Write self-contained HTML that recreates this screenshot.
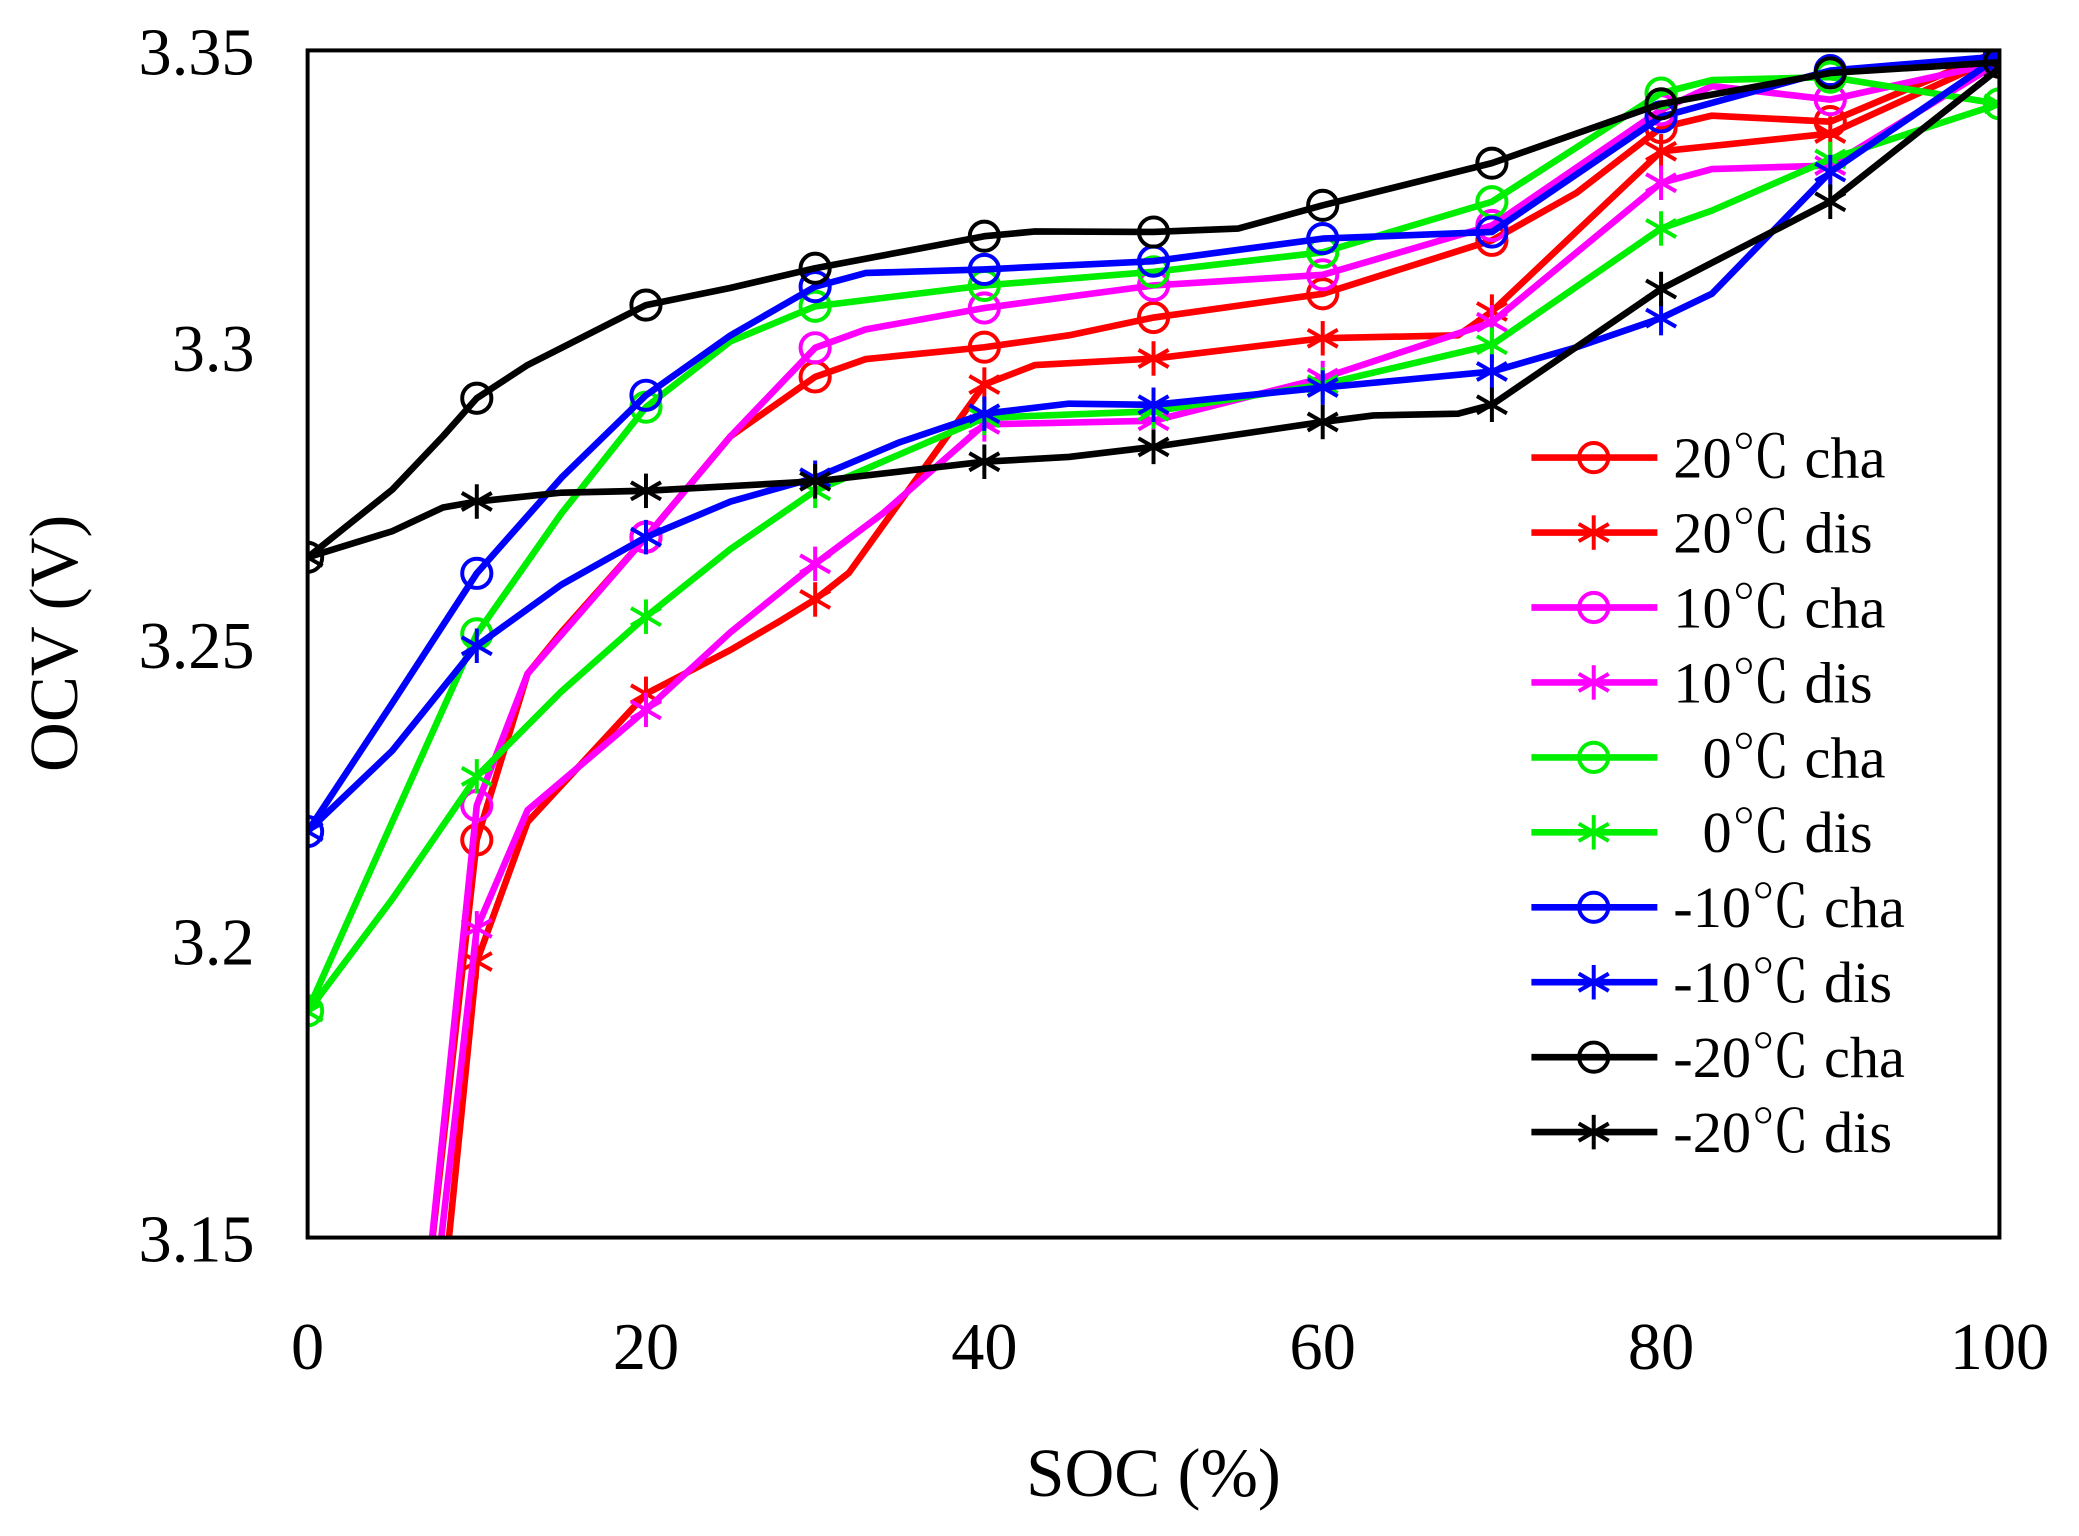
<!DOCTYPE html>
<html><head><meta charset="utf-8"><style>
html,body{margin:0;padding:0;background:#fff;}
svg{display:block;}
text{font-family:"Liberation Serif","Noto Serif CJK SC",serif;fill:#000;}
</style></head><body>
<svg id="chart" width="2079" height="1536" viewBox="0 0 1568 1158" preserveAspectRatio="none" xmlns="http://www.w3.org/2000/svg">
<defs><clipPath id="plotclip"><rect x="232" y="38" width="1276" height="895"/></clipPath></defs>
<g id="series" clip-path="url(#plotclip)"></g>
<rect x="232" y="38" width="1276" height="895" fill="none" stroke="#000" stroke-width="3"/>
<g id="axes"></g>
<g id="legend"></g>
<text x="870" y="1128" font-size="52" text-anchor="middle">SOC (%)</text>
<text transform="translate(58,485) rotate(-90)" font-size="52" text-anchor="middle">OCV (V)</text>
</svg>
<script>
const xTicks=[0,20,40,60,80,100];
const yTicks=[3.15,3.2,3.25,3.3,3.35];
const yTickLabels=["3.15","3.2","3.25","3.3","3.35"];
const seriesNames=["20℃ cha","20℃ dis","10℃ cha","10℃ dis","  0℃ cha","  0℃ dis","-10℃ cha","-10℃ dis","-20℃ cha","-20℃ dis"];
const seriesColors=["#ff0000","#ff0000","#ff00ff","#ff00ff","#00ee00","#00ee00","#0000ff","#0000ff","#000000","#000000"];
const seriesMarkers=["o","*","o","*","o","*","o","*","o","*"];
const soc20c=[7,10,13,15,20,25,30,33,40,45,50,60,70,75,80,83,90,100];
const v20c=[3.14,3.217,3.245,3.252,3.268,3.285,3.295,3.298,3.300,3.302,3.305,3.309,3.318,3.326,3.337,3.339,3.338,3.35];
const soc20d=[8,10,13,20,25,28,30,32,40,43,50,60,68,70,80,90,100];
const v20d=[3.14,3.1965,3.22,3.2416,3.249,3.254,3.2575,3.262,3.2937,3.297,3.2981,3.3015,3.302,3.306,3.333,3.336,3.349];
const soc10c=[7,10,13,20,25,30,33,40,50,60,70,80,83,90,100];
const v10c=[3.14,3.2228,3.245,3.268,3.285,3.2999,3.303,3.3066,3.3104,3.3122,3.3205,3.340,3.344,3.3417,3.348];
const soc10d=[7.5,10,13,20,25,30,34,40,50,60,70,80,83,90,100];
const v10d=[3.14,3.2021,3.222,3.2389,3.252,3.2635,3.272,3.287,3.2876,3.2948,3.3042,3.3277,3.330,3.3306,3.348];
const soc0c=[0,5,10,15,20,25,30,40,50,60,70,80,83,90,100];
const v0c=[3.1882,3.22,3.2517,3.272,3.2899,3.301,3.3069,3.3104,3.3127,3.316,3.3245,3.3428,3.345,3.3455,3.341];
const soc0d=[0,5,10,15,20,25,30,40,50,60,70,80,83,90,100];
const v0d=[3.188,3.207,3.2277,3.242,3.2546,3.266,3.2758,3.2881,3.2892,3.2937,3.3004,3.32,3.323,3.3317,3.341];
const socm10c=[0,5,10,15,20,25,30,33,40,50,60,70,80,90,100];
const vm10c=[3.2184,3.24,3.2619,3.278,3.2919,3.302,3.3102,3.3125,3.3131,3.3145,3.3183,3.3194,3.3388,3.3466,3.349];
const socm10d=[0,5,10,15,20,25,30,35,40,45,50,60,70,75,80,83,90,100];
const vm10d=[3.2184,3.232,3.2497,3.26,3.268,3.274,3.278,3.284,3.2888,3.2905,3.2903,3.2932,3.2959,3.300,3.3049,3.309,3.3295,3.349];
const socm20c=[0,5,8,10,13,20,25,30,35,40,43,50,55,60,70,80,90,100];
const vm20c=[3.2646,3.276,3.285,3.2914,3.297,3.3071,3.310,3.3133,3.316,3.3187,3.3195,3.3194,3.320,3.3239,3.331,3.341,3.3462,3.348];
const socm20d=[0,5,8,10,15,20,30,40,45,50,60,63,68,70,80,90,100];
const vm20d=[3.2646,3.269,3.273,3.274,3.2755,3.2758,3.2774,3.2807,3.2815,3.2832,3.2874,3.2885,3.2888,3.2903,3.3098,3.3245,3.347];
const seriesSoc=[soc20c,soc20d,soc10c,soc10d,soc0c,soc0d,socm10c,socm10d,socm20c,socm20d];
const seriesV=[v20c,v20d,v10c,v10d,v0c,v0d,vm10c,vm10d,vm20c,vm20d];

const NS="http://www.w3.org/2000/svg";
const X0=232,X1=1508,Y0=933,Y1=38;
function xs(s){return X0+(s-0)/100*(X1-X0);}
function ys(v){return Y0-(v-3.15)/0.2*(Y0-Y1);}
function mk(t,a,p){const e=document.createElementNS(NS,t);for(const k in a)e.setAttribute(k,a[k]);p.appendChild(e);return e;}
const axes=document.getElementById('axes');
xTicks.forEach(t=>{
  const tx=mk('text',{x:xs(t),y:1032,'font-size':50,'text-anchor':'middle'},axes);
  tx.textContent=String(t);
  
  
});
yTicks.forEach((t,i)=>{
  const tx=mk('text',{x:192,y:ys(t)+18,'font-size':50,'text-anchor':'end'},axes);
  tx.textContent=yTickLabels[i];
  
  
});
function drawMarker(type,cx,cy,col,parent){
  const g=mk('g',{},parent);
  if(type==='o'){mk('circle',{cx:cx,cy:cy,r:11,fill:'none',stroke:col,'stroke-width':3},g);}
  else{const r=13;
    mk('line',{x1:cx,y1:cy-r,x2:cx,y2:cy+r,stroke:col,'stroke-width':3},g);
    mk('line',{x1:cx-r*0.87,y1:cy-r*0.5,x2:cx+r*0.87,y2:cy+r*0.5,stroke:col,'stroke-width':3},g);
    mk('line',{x1:cx-r*0.87,y1:cy+r*0.5,x2:cx+r*0.87,y2:cy-r*0.5,stroke:col,'stroke-width':3},g);}
  return g;
}
const sg=document.getElementById('series');
seriesSoc.forEach((socs,i)=>{
  const vs=seriesV[i];
  const pts=socs.map((s,j)=>xs(s).toFixed(1)+','+ys(vs[j]).toFixed(1)).join(' ');
  const pl=mk('polyline',{points:pts,fill:'none',stroke:seriesColors[i],'stroke-width':5,'stroke-linejoin':'round'},sg);
  
  
  socs.forEach((s,j)=>{
    if(s%10===0 && vs[j]>=3.15){
      const m=drawMarker(seriesMarkers[i],xs(s),ys(vs[j]),seriesColors[i],sg);
      
      
    }
  });
});
const lg=document.getElementById('legend');
seriesNames.forEach((n,i)=>{
  const y=345+i*56.5;
  const g=mk('g',{},lg);
  
  
  mk('rect',{x:1150,y:y-24,width:320,height:48,fill:'#fff'},g);
  mk('line',{x1:1155,y1:y,x2:1250,y2:y,stroke:seriesColors[i],'stroke-width':5},g);
  drawMarker(seriesMarkers[i],1202,y,seriesColors[i],g);
  const t=mk('text',{x:1262,y:y+15,'font-size':44,'xml:space':'preserve'},g);
  t.style.whiteSpace='pre';
  t.textContent=n;
});
</script>
</body></html>
